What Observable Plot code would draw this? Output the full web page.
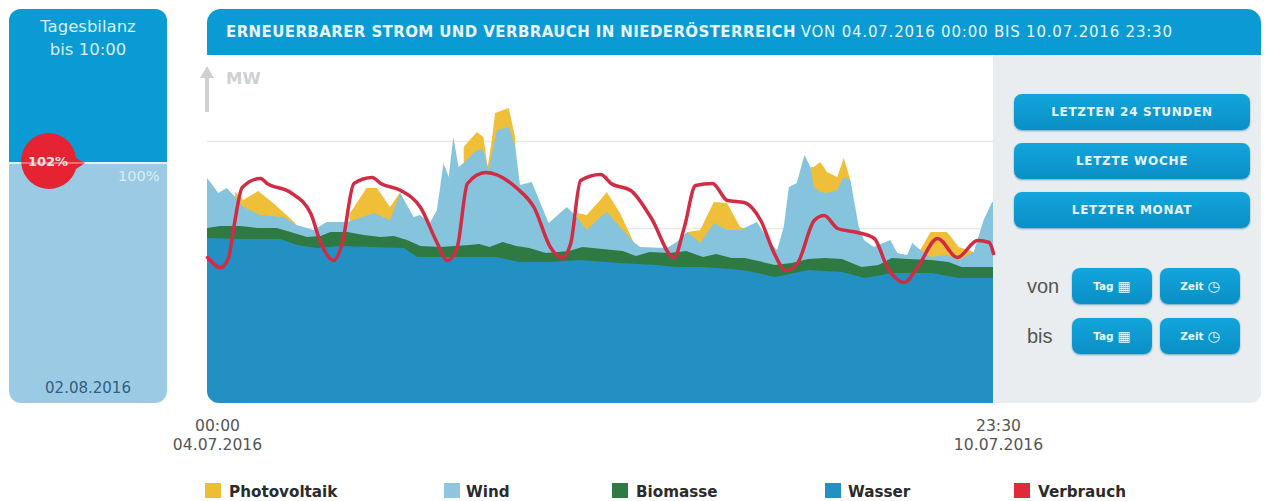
<!DOCTYPE html>
<html lang="de">
<head>
<meta charset="utf-8">
<script src="https://cdn.jsdelivr.net/npm/d3@7"></script>
<script src="https://cdn.jsdelivr.net/npm/@observablehq/plot@0.6"></script>
<style>
html,body{margin:0;padding:0;background:#fff;}
#page{position:relative;width:1270px;height:501px;overflow:hidden;font-family:"DejaVu Sans",sans-serif;}
#page>*{position:absolute;}
.btn{background:linear-gradient(#12a5dc,#0a8fc6);border-radius:8px;color:#e8f6fc;font-weight:bold;display:flex;align-items:center;justify-content:center;box-shadow:0 1px 2px #6aa9c4;box-sizing:border-box;}
.wide{left:1014px;width:236px;height:36px;font-size:12px;letter-spacing:.7px;}
.small{width:80px;height:36px;font-size:10.5px;gap:4px;}
.small span{font-size:14px;line-height:14px;}
.lab{font-family:"Liberation Sans",sans-serif;font-size:20px;color:#555;left:1027px;}
.sw{width:16px;height:15px;top:483px;}
.lg{top:483px;font-size:15.2px;font-weight:bold;color:#2b2b2b;line-height:18px;white-space:nowrap;}
#plot{left:0;top:55px;}
svg{display:block;}
</style>
</head>
<body>
<div id="page">
  <div style="left:9px;top:9px;width:158px;height:394px;border-radius:12px;overflow:hidden;background:#9bcbe4;">
    <div style="height:153px;background:#0a9bd4;"></div>
    <div style="height:1.5px;background:#e4f3fa;"></div>
  </div>
  <div style="left:9px;top:15px;width:158px;text-align:center;color:#d8f0fa;font-size:16.5px;line-height:23px;">Tagesbilanz<br>bis 10:00</div>
  <div style="left:9px;top:379px;width:158px;text-align:center;color:#2f5f7f;font-size:15px;">02.08.2016</div>
  <div style="left:118px;top:168px;color:#dcedf6;font-size:14.5px;">100%</div>
  <svg style="left:19px;top:132px;" width="68" height="58"><path d="M29 1a28 28 0 1 0 28 36l9-6-9-5A28 28 0 0 0 29 1z" fill="#e62333"/><path d="M0 31h66" stroke="#f5b8bd" stroke-width="1"/></svg>
  <div style="left:19px;top:154px;width:58px;text-align:center;color:#fbe3e5;font-size:13px;font-weight:bold;">102%</div>

  <div style="left:207px;top:9px;width:1054px;height:46px;background:#0a9bd4;border-radius:14px 14px 0 0;"></div>
  <div style="left:226px;top:23px;color:#e6f6fc;font-size:15px;line-height:18px;white-space:nowrap;"><b style="letter-spacing:.4px;">ERNEUERBARER STROM UND VERBRAUCH IN NIEDERÖSTERREICH</b> <span style="letter-spacing:.8px;">VON 04.07.2016 00:00 BIS 10.07.2016 23:30</span></div>
  <div style="left:993px;top:55px;width:268px;height:348px;background:#e9edf0;border-radius:0 0 10px 0;"></div>

  <div class="btn wide" style="top:94px;">LETZTEN 24 STUNDEN</div>
  <div class="btn wide" style="top:143px;">LETZTE WOCHE</div>
  <div class="btn wide" style="top:192px;">LETZTER MONAT</div>
  <div class="lab" style="top:275px;">von</div>
  <div class="lab" style="top:325px;">bis</div>
  <div class="btn small" style="left:1072px;top:268px;">Tag <span>▦</span></div>
  <div class="btn small" style="left:1160px;top:268px;">Zeit <span>◷</span></div>
  <div class="btn small" style="left:1072px;top:318px;">Tag <span>▦</span></div>
  <div class="btn small" style="left:1160px;top:318px;">Zeit <span>◷</span></div>

  <div id="plot"></div>

  <svg style="left:198px;top:62px;" width="18" height="52"><path d="M9 4l7 12h-5v34h-4V16H2z" fill="#cfd0d3"/></svg>
  <div style="left:226px;top:69px;color:#cfd0d3;font-size:16.5px;font-weight:bold;">MW</div>
  <svg style="left:207px;top:391px;" width="12" height="12"><path d="M0 0v12h12A12 12 0 0 1 0 0z" fill="#fff"/></svg>

  <div class="sw" style="left:205px;background:#efbd35;"></div><div class="lg" style="left:229px;">Photovoltaik</div>
  <div class="sw" style="left:444px;background:#8fc6dd;"></div><div class="lg" style="left:466px;">Wind</div>
  <div class="sw" style="left:612px;background:#2f7a42;"></div><div class="lg" style="left:636px;">Biomasse</div>
  <div class="sw" style="left:825px;background:#2290c3;"></div><div class="lg" style="left:848px;">Wasser</div>
  <div class="sw" style="left:1014px;background:#e1293c;"></div><div class="lg" style="left:1038px;">Verbrauch</div>
</div>
<script>
// Each series: knots, [hours since 04.07.2016 00:00, height of the stack top]
const wasser = [[0,165],[7.1,164],[15.6,164],[19.2,158],[23.5,155],[28.4,157],[35.5,156],[41.9,155],[44.8,146],[49.8,146],[55.9,146],[61.6,146],[66.6,141],[73,141],[79.4,143],[87.9,140],[95.7,138],[100,136],[105.7,136],[111.8,134],[115.4,132],[121,126],[128.1,133],[135.3,131],[140.2,125],[145.9,130],[154.4,130],[160.3,125],[167.5,125]];
const biomasse = [[0,175],[2.8,177],[7.1,177],[10.7,175],[14.9,175],[17.8,171],[21.3,166],[24.2,167],[26.3,171],[29.9,171],[33.4,168],[37,166],[39.8,167],[42.6,163],[45.5,157],[49.8,156],[52.6,157],[55.9,158],[58,159],[60.2,156],[63,161],[65.9,157],[68.7,155],[72.2,150],[77.2,152],[80,156],[84.3,154],[88.6,152],[91.4,147],[94.3,151],[98.5,150],[102.1,152],[105.7,146],[108.5,149],[111.8,145],[114.6,145],[117.5,142],[121,138],[124.6,140],[128.1,144],[131.7,145],[135.3,144],[139.5,136],[143.1,138],[145.9,145],[149.5,144],[154.4,143],[158,141],[160.8,136],[164.4,136],[167.5,136]];
const wind = [[0,225],[1,219],[2.4,210],[4.2,215],[6,206],[7.7,196],[11.3,188],[16.3,186],[19.1,178],[22.7,173],[25.5,181],[29.8,181],[32.6,185],[35.5,190],[39,183],[41.2,210],[44,186],[45.4,188],[47.5,180],[49,193],[50.4,240],[51.5,226],[52.5,266],[53.6,236],[54.7,240],[57.5,253],[58.9,253],[60,233],[61.8,273],[64.3,276],[65.7,256],[66.7,218],[69.2,221],[72.8,180],[76.7,196],[78.8,186],[80.9,173],[83.8,186],[85.2,191],[88,176],[90.9,161],[92.3,156],[98,155],[100.1,161],[102.3,171],[105.1,160],[108,180],[110.8,173],[113.6,173],[117.2,181],[120,160],[121.5,153],[122.9,176],[124,216],[125.7,220],[127.3,248],[128.6,236],[129.3,216],[130.7,211],[132.1,210],[134.3,213],[135.7,226],[137.1,223],[138.9,176],[140,163],[142.1,156],[145.6,163],[147.1,150],[149.2,148],[150.3,160],[152,153],[154.2,146],[157.7,148],[160.2,143],[163.4,151],[165.5,183],[167.3,201],[167.5,201]];
const photovoltaik = [[6,211],[7.7,203],[10.9,212],[14.1,200],[18.8,180],[18.9,null],[30.4,null],[30.5,190],[34,215],[36.2,215],[39,196],[41.2,211],[41.3,null],[54.6,null],[54.7,256],[57.5,271],[58.9,266],[59.8,236],[60.7,263],[61.4,290],[64.3,295],[65.7,265],[65.8,null],[78.7,null],[78.8,190],[80.9,188],[83.8,203],[85.2,211],[88,190],[90.9,161],[91,null],[102.2,null],[102.3,171],[105.1,173],[108,201],[110.8,200],[113.6,176],[115.1,173],[115.2,null],[128.5,null],[128.6,236],[129.3,236],[130.7,241],[132.1,231],[134.3,226],[135.7,245],[137.1,223],[137.2,null],[151.9,null],[152,153],[154.2,171],[157.7,171],[160.2,156],[163.4,151]];
const verbrauch = [[0,146],[2.8,136],[4.5,146],[5.6,176],[7.4,216],[11.3,225],[12.7,220],[17.7,211],[22,190],[24.1,161],[26.9,143],[28.7,160],[31.2,220],[35.1,226],[36.9,220],[41.2,213],[45.4,196],[49,160],[51.1,143],[53.2,156],[55.4,220],[59.3,231],[66,215],[69.6,196],[73.1,156],[75.6,146],[77.4,160],[79.5,223],[83.8,229],[86,220],[90.2,213],[94.5,186],[99.4,146],[101.6,176],[104,218],[107.6,220],[110.8,203],[114.4,201],[117.9,183],[120.8,150],[123.2,133],[125.7,140],[129.3,183],[131.4,188],[134.3,175],[138.5,171],[142.1,165],[144.9,136],[148.5,121],[151.3,136],[155.6,165],[159.8,146],[164.1,163],[166.6,161],[167.5,150]];
const gridLevels = [175, 262];
const tickStart = 0, tickEnd = 167.5;
const tickText = {[tickStart]: "00:00\n04.07.2016", [tickEnd]: "23:30\n10.07.2016"};

const hx = d => d[0], vy = d => d[1];
const axisStyle = {anchor: "bottom", tickSize: 0, tickPadding: 13, label: null, fontSize: 15.6, lineHeight: 1.27, textAnchor: "middle", fill: "#555", tickFormat: d => tickText[d]};
const chart = Plot.plot({
  width: 1270, height: 405,
  marginLeft: 207, marginRight: 277, marginTop: 0, marginBottom: 57,
  x: {domain: [tickStart, tickEnd]},
  y: {domain: [0, 348], axis: null},
  style: {background: "transparent", overflow: "visible", fontFamily: "DejaVu Sans, sans-serif"},
  marks: [
    Plot.ruleY(gridLevels, {stroke: "#e7e7e7", strokeWidth: 1.5}),
    Plot.areaY(photovoltaik, {x: hx, y: vy, fill: "#efbf3a"}),
    Plot.areaY(wind, {x: hx, y: vy, fill: "#86c3dc"}),
    Plot.areaY(biomasse, {x: hx, y: vy, fill: "#2f7a42"}),
    Plot.areaY(wasser, {x: hx, y: vy, fill: "#2290c3"}),
    Plot.lineY(verbrauch, {x: hx, y: vy, stroke: "#d22c45", strokeWidth: 3.5, strokeLinejoin: "round", curve: "monotone-x"}),
    Plot.axisX([tickStart], {...axisStyle, dx: 10}),
    Plot.axisX([tickEnd], {...axisStyle, dx: 5})
  ]
});
document.getElementById("plot").appendChild(chart);
</script>
</body>
</html>
